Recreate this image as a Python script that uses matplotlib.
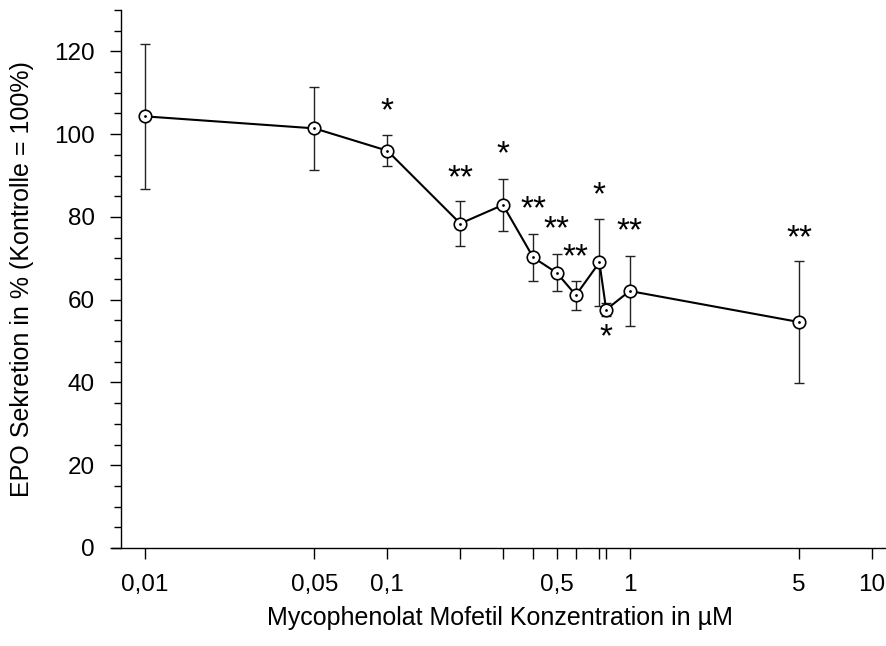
import matplotlib
matplotlib.use("Agg")
import matplotlib.pyplot as plt
import numpy as np
from matplotlib.ticker import FixedLocator, FixedFormatter, MultipleLocator, NullLocator

plt.rcParams['font.family'] = ['Liberation Sans', 'DejaVu Sans']

conc = [0.01, 0.05, 0.1, 0.2, 0.3, 0.4, 0.5, 0.6, 0.75, 0.8, 1, 5]
epo = [104.3, 101.4, 96.0, 78.4, 82.9, 70.2, 66.5, 61.1, 69.0, 57.6, 62.1, 54.6]
err = [17.6, 10.0, 3.7, 5.4, 6.2, 5.7, 4.5, 3.5, 10.5, 1.5, 8.4, 14.8]
sig = ["", "", "*", "**", "*", "**", "**", "**", "*", "*", "**", "**"]
sig_y = [None, None, 107.0, 90.8, 96.4, 83.3, 78.3, 71.7, 86.5, 52.2, 77.8, 76.3]

xtick_pos = [0.01, 0.05, 0.1, 0.2, 0.3, 0.4, 0.5, 0.6, 0.75, 0.8, 1, 5, 10]
xtick_lab = ["0,01", "0,05", "0,1", "", "", "", "0,5", "", "", "", "1", "5", "10"]

fig = plt.figure(figsize=(8.87, 6.46), dpi=100)
ax = fig.add_axes([112/887, 98/646, (887-112)/887, 538/646])

ax.errorbar(conc, epo, yerr=err, fmt='none', ecolor='#222222', elinewidth=1.0,
            capsize=3.6, capthick=1.0, zorder=2)
ax.plot(conc, epo, color='black', lw=1.5, zorder=3)
ax.plot(conc, epo, 'o', ms=9, mfc='white', mec='black', mew=1.2, zorder=4)
ax.plot(conc, epo, '.', ms=2, color='black', zorder=5)

for x, s, y in zip(conc, sig, sig_y):
    if s:
        ax.annotate(s, (x, y), xytext=(0, -10.5), textcoords='offset points',
                    ha='center', va='baseline', fontsize=24)

ax.set_xscale('log')
ax.set_xlim(10**(-2 - 33/242), 10**(1 + 15/242))
ax.set_ylim(0, 130)

ax.spines['top'].set_visible(False)
ax.spines['right'].set_visible(False)
ax.spines['left'].set_position(('data', 10**(-2 - 24/242)))
ax.spines['left'].set_linewidth(1.0)
ax.spines['bottom'].set_linewidth(1.0)

ax.xaxis.set_major_locator(FixedLocator(xtick_pos))
ax.xaxis.set_major_formatter(FixedFormatter(xtick_lab))
ax.xaxis.set_minor_locator(NullLocator())
ax.yaxis.set_major_locator(MultipleLocator(20))
ax.yaxis.set_minor_locator(MultipleLocator(5))
ax.tick_params(axis='both', which='major', direction='out', length=8, width=1.0,
               labelsize=17.5, pad=11)
ax.tick_params(axis='y', which='minor', direction='out', length=5, width=1.0)

ax.set_xlabel("Mycophenolat Mofetil Konzentration in µM", fontsize=18, labelpad=7)
ax.set_ylabel("EPO Sekretion in % (Kontrolle = 100%)", fontsize=18, labelpad=14.5)

fig.savefig("out.png", dpi=100)
